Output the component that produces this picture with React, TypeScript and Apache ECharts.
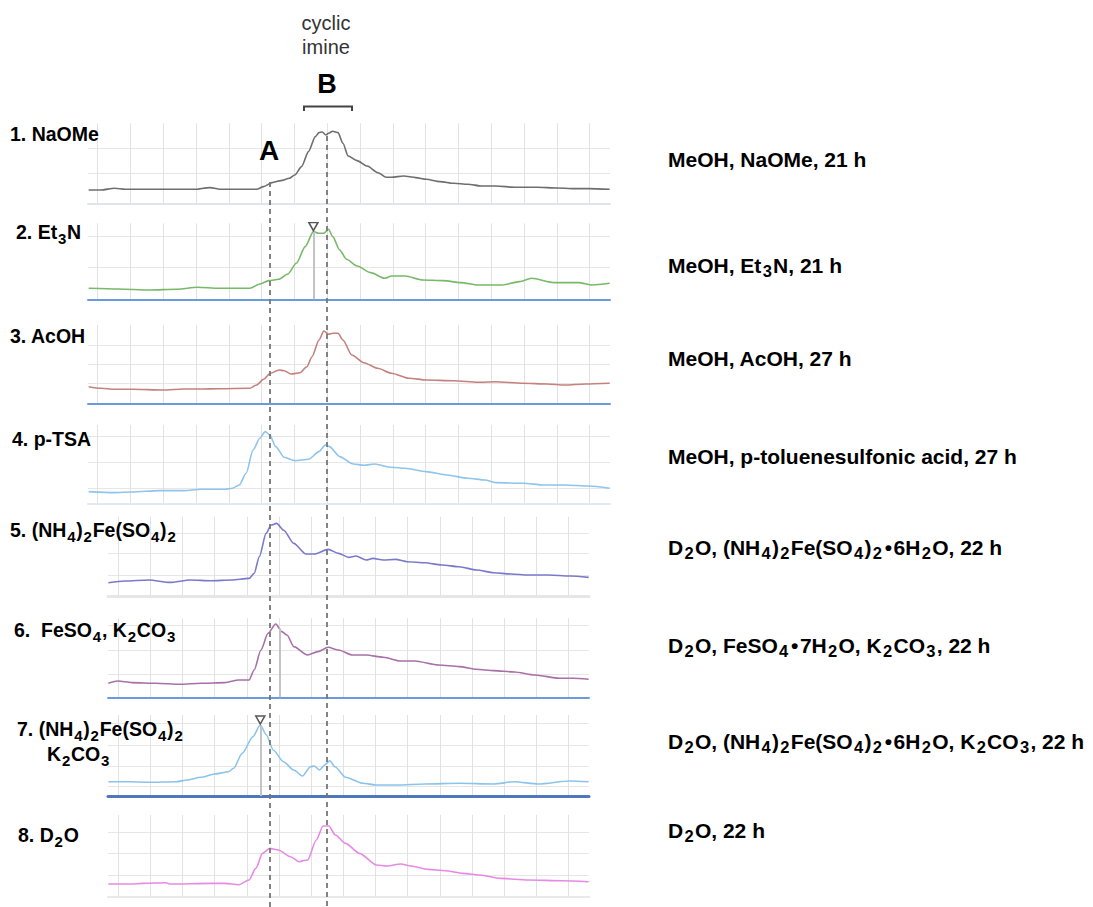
import React, { useEffect, useRef } from 'react';
import * as echarts from 'echarts';

// ---------- DATA (retention-time units, intensity units) ----------
const TRACE_NAOME = [[0.02,13.3],[0.39,13.3],[0.81,15],[1.13,14],[3.24,14],[3.71,15.7],[4.08,14],[5.14,14],[5.35,16.7],[5.61,20.7],[5.88,22.7],[6.14,25],[6.30,28.3],[6.51,36.7],[6.72,51.7],[6.93,66.7],[7.04,70.7],[7.14,71.3],[7.25,68.3],[7.33,70],[7.46,72],[7.62,70.7],[7.77,60],[7.93,47.3],[8.20,42.7],[8.51,37.3],[8.83,30.7],[9.09,26],[9.25,26],[9.62,27.3],[9.99,25.7],[10.31,24],[10.73,21.7],[11.15,20],[11.57,19],[12.0,17.3],[12.42,17.3],[13.05,16],[13.68,16],[14.31,15.3],[14.74,14.7],[15.26,14.7],[15.9,14]];
const TRACE_ET3N = [[0.02,11],[0.92,10.3],[1.87,9.3],[2.71,10],[3.34,12],[3.98,11],[4.93,11],[5.24,15.3],[5.51,18.7],[5.82,20],[6.09,25.3],[6.35,36],[6.62,52.7],[6.87,67.7],[7.04,66],[7.19,66],[7.33,70],[7.46,62.7],[7.67,49.3],[7.88,40],[8.2,33.3],[8.62,26.7],[9.04,21],[9.25,23.3],[9.67,23.3],[10.2,19.3],[10.83,18.7],[11.36,16.7],[11.89,14.3],[12.63,14.3],[13.15,17.7],[13.52,21],[14.21,16.7],[14.95,16.7],[15.37,14.3],[15.9,16]];
const TRACE_ACOH = [[0.02,17.3],[0.39,15.7],[0.81,14.7],[1.34,14.7],[2.29,14],[2.92,15],[3.45,15],[3.98,15.3],[4.93,15.7],[5.14,19],[5.35,24.7],[5.56,30.7],[5.82,34],[5.98,33.3],[6.19,30],[6.46,31.3],[6.67,37.3],[6.83,47.3],[7.04,64],[7.19,73],[7.33,69.7],[7.46,70.7],[7.62,70.7],[7.77,64],[8.04,49],[8.41,41.3],[8.83,35.7],[9.25,30.7],[9.78,25.7],[10.31,24],[11.15,23.3],[11.89,21.7],[12.42,22.3],[13.26,20.7],[14.0,20],[14.53,19],[15.16,20],[15.9,20.7]];
const TRACE_PTSA = [[0.02,11.7],[0.81,10.7],[1.34,11.3],[2.18,12.7],[2.92,12.7],[3.45,14],[4.19,14],[4.40,15],[4.61,18.3],[4.82,30],[5.03,53.3],[5.24,65],[5.40,71.7],[5.54,68.3],[5.72,56.7],[5.98,46],[6.30,42.7],[6.72,44],[7.04,51.7],[7.23,58.3],[7.36,56.7],[7.67,46.7],[8.09,39.3],[8.41,38],[8.73,39.3],[9.25,36],[9.67,35],[10.31,31.7],[10.94,28.3],[11.57,25],[12.1,23.3],[12.42,20.7],[13.26,20],[13.89,18.3],[14.53,18.3],[15.26,17.3],[15.9,15]];
const TRACE_FAS = [[0.01,14],[0.52,15.7],[1.27,16.7],[1.92,14.3],[2.56,16.7],[3.2,16],[3.84,16.7],[4.38,18.3],[4.54,23.3],[4.7,40],[4.91,63.3],[5.07,71.7],[5.24,73.3],[5.45,66.7],[5.77,53.3],[6.15,42.7],[6.41,42.7],[6.84,47.3],[7.16,43.3],[7.48,39.3],[7.7,40.7],[8.02,36.7],[8.23,38.3],[8.55,36.7],[8.93,37.3],[9.3,35],[9.84,34],[10.37,31.7],[10.91,30],[11.45,26.7],[11.98,24],[12.52,22.7],[13.05,21.7],[13.69,21.7],[14.34,20.7],[14.93,19.3]];
const TRACE_FESO4 = [[0.01,14],[0.31,16.3],[0.74,14.7],[1.49,14],[2.24,13],[2.88,14],[3.63,14.7],[4.06,17.3],[4.38,17.3],[4.54,27.3],[4.75,47.3],[4.97,64],[5.21,73.3],[5.4,65.7],[5.56,62.3],[5.77,50.7],[6.2,42.3],[6.52,45.7],[6.84,50],[7.16,47.3],[7.59,42.3],[8.02,42.3],[8.55,40],[9.09,36.3],[9.52,36.3],[10.27,32.3],[10.91,30.7],[11.45,28],[11.98,26.7],[12.62,25.3],[13.26,22.3],[14.02,19],[14.44,19],[14.93,18]];
const TRACE_FAS_K2CO3 = [[0.01,14.3],[0.74,14.3],[1.27,13.7],[2.13,14.3],[2.45,16],[2.88,18.7],[3.31,22],[3.74,24.3],[3.9,27.7],[4.17,42.7],[4.5,59.3],[4.73,71],[4.92,61],[5.13,46],[5.45,34.3],[5.77,26],[6.04,20],[6.29,29.3],[6.41,30],[6.57,26],[6.73,31],[6.89,35.3],[7.05,29.3],[7.38,18.7],[7.91,12.7],[8.34,11],[8.98,11],[9.84,12],[10.91,12.7],[11.98,12],[12.62,14.3],[13.37,12],[14.34,15],[14.93,14.3]];
const TRACE_D2O = [[0.01,12.7],[0.74,12.7],[1.06,13.3],[1.81,14],[1.92,12.7],[3.2,13.3],[3.63,13.3],[4.06,12],[4.38,16.7],[4.59,28.3],[4.8,43.3],[5.02,48.3],[5.29,46.7],[5.67,40],[5.93,35],[6.2,36.7],[6.47,56.7],[6.68,70.7],[6.86,70.7],[7.06,61.7],[7.38,53.3],[7.81,43.3],[8.34,31.7],[8.66,30.7],[9.09,32.7],[9.41,30.7],[9.95,27.3],[10.48,26],[11.02,23.3],[11.55,21.7],[12.2,18.3],[13.05,16.7],[14.12,16],[14.93,15]];

// peak markers (x, intensity)
const PEAK_ET3N = [6.87, 67.7];
const PEAK_FESO4 = [5.34, 69];
const PEAK_FAS_K2CO3 = [4.73, 71];

// reference retention times of A and B (top-panel time units)
const TIME_A = 5.53;
const TIME_B = 7.28;

// gridline tick values
const X_TICKS_TOP = [0.29,1.29,2.29,3.29,4.29,5.29,6.29,7.29,8.29,9.29,10.29,11.29,12.29,13.29,14.29,15.29];
const X_TICKS_BOTTOM = [0.31,1.31,2.31,3.31,4.31,5.31,6.31,7.31,8.31,9.31,10.31,11.31,12.31,13.31,14.31];
const Y_TICKS = [
  [30, 55],
  [31.7, 63.3],
  [20.7, 40, 59],
  [15, 40.7, 67.3],
  [21.7, 43.3, 63.3],
  [23.3, 47.3, 72.3],
  [9.3, 29.3, 51, 72.7],
  [21.7, 43.3, 64.3],
];

const LEFT_LABELS = [
  '1. NaOMe',
  '2. Et{s|3}N',
  '3. AcOH',
  '4. p-TSA',
  '5. (NH{s|4}){s|2}Fe(SO{s|4}){s|2}',
  '6.  FeSO{s|4}, K{s|2}CO{s|3}',
  '7. (NH{s|4}){s|2}Fe(SO{s|4}){s|2}',
  '8. D{s|2}O',
];
const RIGHT_LABELS = [
  'MeOH, NaOMe, 21 h',
  'MeOH, Et{s|3}N, 21 h',
  'MeOH, AcOH, 27 h',
  'MeOH, p-toluenesulfonic acid, 27 h',
  'D{s|2}O, (NH{s|4}){s|2}Fe(SO{s|4}){s|2}{b|•}6H{s|2}O, 22 h',
  'D{s|2}O, FeSO{s|4}{b|•}7H{s|2}O, K{s|2}CO{s|3}, 22 h',
  'D{s|2}O, (NH{s|4}){s|2}Fe(SO{s|4}){s|2}{b|•}6H{s|2}O, K{s|2}CO{s|3}, 22 h',
  'D{s|2}O, 22 h',
];

const FONT = "'Liberation Sans', Arial, Helvetica, sans-serif";

// ---------- LAYOUT ----------
const PANELS = [
  { data: TRACE_NAOME, color: '#6e6e6e', left: 88, width: 522, top: 123.3, height: 80, xMax: 15.91, axis: '#dde5ee', axisW: 2 },
  { data: TRACE_ET3N, color: '#77b968', left: 88, width: 522, top: 223.3, height: 76, xMax: 15.91, axis: '#6a9be0', axisW: 2, peak: PEAK_ET3N, tri: true },
  { data: TRACE_ACOH, color: '#c4817e', left: 88, width: 522, top: 325, height: 79, xMax: 15.91, axis: '#6a9be0', axisW: 2 },
  { data: TRACE_PTSA, color: '#8fc4ec', left: 88, width: 522, top: 425, height: 78.3, xMax: 15.91, axis: '#e3e9f0', axisW: 2 },
  { data: TRACE_FAS, color: '#7b79cb', left: 108, width: 481, top: 516.7, height: 80, xMax: 14.94, axis: '#e6e6e6', axisW: 3 },
  { data: TRACE_FESO4, color: '#a870a9', left: 108, width: 481, top: 618.3, height: 79, xMax: 14.94, axis: '#6a9be0', axisW: 2, peak: PEAK_FESO4 },
  { data: TRACE_FAS_K2CO3, color: '#8cc3ed', left: 108, width: 481, top: 715, height: 81, xMax: 14.94, axis: '#4d78bd', axisW: 3, peak: PEAK_FAS_K2CO3, tri: true },
  { data: TRACE_D2O, color: '#e68ae5', left: 108, width: 481, top: 815, height: 81.7, xMax: 14.94, axis: '#e9e9e9', axisW: 2 },
];
const LEFT_POS = [[10, 134], [16, 232], [10, 336], [12, 439], [10, 530], [14, 630], [17, 729], [18, 835]];
const RIGHT_Y = [159, 265, 358, 456, 547, 645, 741, 830];

function richText(x: number, y: number, text: string, size: number, subSize: number, subPad: number) {
  return {
    type: 'text',
    x,
    y,
    silent: true,
    z: 20,
    style: {
      text,
      x: 0,
      y: 0,
      fontFamily: FONT,
      fontWeight: 'bold',
      fontSize: size,
      lineHeight: size + 8,
      fill: '#000',
      align: 'left',
      verticalAlign: 'middle',
      rich: {
        s: { fontFamily: FONT, fontWeight: 'bold', fontSize: subSize, lineHeight: subSize, verticalAlign: 'bottom', fill: '#000', padding: [0, subPad, 0, subPad] },
        b: { fontFamily: FONT, fontWeight: 'bold', fontSize: size, lineHeight: size + 8, fill: '#000', padding: [0, 1.5, 0, 1.5] },
      },
    },
  };
}

function buildOption() {
  const grid: any[] = [];
  const xAxis: any[] = [];
  const yAxis: any[] = [];
  const series: any[] = [];

  PANELS.forEach((p, i) => {
    const xt = i < 4 ? X_TICKS_TOP : X_TICKS_BOTTOM;
    grid.push({ left: p.left, top: p.top, width: p.width, height: p.height, outerBoundsMode: 'none', containLabel: false });
    xAxis.push({
      gridIndex: i, type: 'value', min: 0, max: p.xMax,
      axisLabel: { show: false },
      axisTick: { show: false, customValues: xt },
      splitLine: { show: true, customValues: xt, lineStyle: { color: '#e2e2e2', width: 1 } },
      axisLine: { show: true, onZero: false, lineStyle: { color: p.axis, width: p.axisW } },
    });
    yAxis.push({
      gridIndex: i, type: 'value', min: 0, max: p.height,
      axisLabel: { show: false },
      axisTick: { show: false, customValues: Y_TICKS[i] },
      axisLine: { show: false },
      splitLine: { show: true, customValues: Y_TICKS[i], lineStyle: { color: '#e6e6e6', width: 1 } },
    });
    const s: any = {
      type: 'line', xAxisIndex: i, yAxisIndex: i, data: p.data,
      showSymbol: false, symbol: 'none', smooth: 0.25, smoothMonotone: 'x', silent: true, z: 3,
      lineStyle: { color: p.color, width: 1.6 },
    };
    if (p.peak) {
      s.markLine = {
        silent: true, symbol: ['none', 'none'], label: { show: false },
        lineStyle: { color: '#c4c4c4', width: 2, type: 'solid' },
        data: [[{ coord: [p.peak[0], 0] }, { coord: [p.peak[0], p.peak[1]] }]],
      };
    }
    if (p.tri) {
      s.markPoint = {
        silent: true, symbol: 'triangle', symbolSize: [9, 8], symbolRotate: 180, symbolOffset: [0, -5],
        itemStyle: { color: '#ffffff', borderColor: '#555', borderWidth: 1.5 },
        label: { show: false },
        data: [{ coord: [p.peak[0], p.peak[1]] }],
      };
    }
    series.push(s);
  });

  // overlay for dashed reference lines A and B
  grid.push({ left: 88, top: 100, width: 522, height: 807, outerBoundsMode: 'none', containLabel: false });
  xAxis.push({ gridIndex: 8, type: 'value', min: 0, max: 15.91, show: false });
  yAxis.push({ gridIndex: 8, type: 'value', min: 0, max: 807, inverse: true, show: false });
  series.push({
    type: 'line', xAxisIndex: 8, yAxisIndex: 8, data: [[TIME_B, 807]], showSymbol: false, symbol: 'none',
    lineStyle: { opacity: 0 }, silent: true, z: 10,
    markLine: {
      silent: true, symbol: ['none', 'none'], label: { show: false },
      lineStyle: { color: '#777', width: 1.8, type: [5, 4] },
      data: [
        [{ xAxis: TIME_A, yAxis: 82 }, { xAxis: TIME_A, yAxis: 807 }],
        [{ xAxis: TIME_B, yAxis: 36 }, { xAxis: TIME_B, yAxis: 807 }],
      ],
    },
  });

  const graphic: any[] = [];
  LEFT_LABELS.forEach((t, i) => graphic.push(richText(LEFT_POS[i][0], LEFT_POS[i][1], t, 19.5, 15, 0.8)));
  graphic.push(richText(47, 754, 'K{s|2}CO{s|3}', 19.5, 15, 0.8));
  RIGHT_LABELS.forEach((t, i) => graphic.push(richText(668, RIGHT_Y[i], t, 21, 16.5, 1.3)));

  graphic.push({ type: 'text', x: 326, y: 23, silent: true, style: { text: 'cyclic', fontFamily: FONT, fontSize: 20, fill: '#333', align: 'center', verticalAlign: 'middle' } });
  graphic.push({ type: 'text', x: 326, y: 47, silent: true, style: { text: 'imine', fontFamily: FONT, fontSize: 20, fill: '#333', align: 'center', verticalAlign: 'middle' } });
  graphic.push({ type: 'text', x: 327, y: 84, silent: true, style: { text: 'B', fontFamily: FONT, fontWeight: 'bold', fontSize: 27, fill: '#000', align: 'center', verticalAlign: 'middle' } });
  graphic.push({ type: 'text', x: 269, y: 150, silent: true, z: 20, style: { text: 'A', fontFamily: FONT, fontWeight: 'bold', fontSize: 28, fill: '#000', align: 'center', verticalAlign: 'middle' } });
  graphic.push({ type: 'polyline', silent: true, shape: { points: [[304, 111], [304, 106.5], [352, 106.5], [352, 111]] }, style: { stroke: '#444', lineWidth: 2, fill: null } });

  return { animation: false, backgroundColor: '#ffffff', grid, xAxis, yAxis, series, graphic };
}

export default function App() {
  const ref = useRef<HTMLDivElement>(null);
  useEffect(() => {
    const chart = echarts.init(ref.current as HTMLDivElement, null, { renderer: 'svg' });
    chart.setOption(buildOption() as any);
    return () => chart.dispose();
  }, []);
  return <div ref={ref} style={{ position: 'absolute', left: 0, top: 0, width: 1093, height: 907, background: '#fff' }} />;
}
